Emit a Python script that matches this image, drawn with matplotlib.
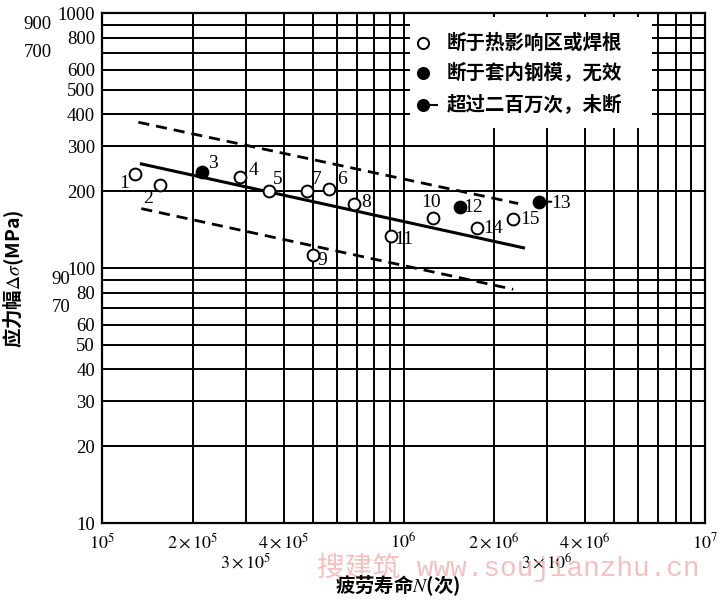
import matplotlib
matplotlib.use('Agg')
import matplotlib.pyplot as plt
from matplotlib.patches import Rectangle

plt.rcParams['font.family'] = ['Liberation Serif', 'Noto Sans CJK SC']
plt.rcParams['mathtext.fontset'] = 'stix'

# test results: specimen no., fatigue life N, stress range (MPa)
spec_id = ['1', '2', '3', '4', '5', '6', '7', '8', '9', '10', '11', '12', '13', '14', '15']
life_N = [1.29e5, 1.56e5, 2.14e5, 2.87e5, 3.59e5, 5.67e5, 4.78e5, 6.87e5,
          4.99e5, 1.255e6, 9.07e5, 1.54e6, 2.81e6, 1.75e6, 2.31e6]
stress = [234, 212, 239, 228, 201, 205, 201, 179, 112, 157, 133, 174, 182, 143, 156]
# 0 = broke at HAZ / weld root, 1 = broke in sleeve (invalid), 2 = run-out
status = [0, 0, 1, 0, 0, 0, 0, 0, 0, 0, 0, 1, 2, 0, 0]

# S-N lines (mean and the two bounds)
mean_N = [1.35e5, 2.50e6]
mean_S = [256, 120]
upper_N = [1.32e5, 2.40e6]
upper_S = [373, 179]
lower_N = [1.35e5, 2.31e6]
lower_S = [171, 82.5]

legend_txt = ['断于热影响区或焊根', '断于套内钢模，无效', '超过二百万次，未断']

yticks = [10, 20, 30, 40, 50, 60, 70, 80, 90, 100, 200, 300, 400, 500,
          600, 700, 800, 900, 1000]
xticks = [k * 10 ** e for e in (5, 6) for k in range(1, 10)] + [10 ** 7]
xlab = {1e5: r'$10^{5}$', 2e5: r'$2\times10^{5}$', 4e5: r'$4\times10^{5}$',
        1e6: r'$10^{6}$', 2e6: r'$2\times10^{6}$', 4e6: r'$4\times10^{6}$',
        1e7: r'$10^{7}$'}
xlab_low = {3e5: r'$3\times10^{5}$', 3e6: r'$3\times10^{6}$'}
ylab_shift = {900: -0.083, 700: -0.083, 90: -0.053, 70: -0.053}

# label offsets (points) for specimen numbers
lab_off = [(-8.4, -6.7), (-8.9, -10), (8.4, 5.5), (9.6, 4.3), (5.8, 8.2),
           (8.9, 6.7), (7.2, 8.2), (8.4, 0.4), (6.8, -3.6), (-1.9, 11.5),
           (9.1, -2.4), (9.6, -0.4), (16.3, -1.2), (12, 0), (12, -0.7)]

fig = plt.figure(figsize=(7.22, 6.0), dpi=100)
ax = fig.add_axes([0.1413, 0.1283, 0.8352, 0.85])
ax.set_xscale('log')
ax.set_yscale('log')
ax.set_xlim(1e5, 1e7)
ax.set_ylim(10, 1000)

ax.set_xticks(xticks)
ax.set_xticklabels([xlab.get(float(v), '') for v in xticks], fontsize=13)
ax.set_yticks(yticks)
ax.set_yticklabels(['' if v in ylab_shift else str(v) for v in yticks], fontsize=13.5)
ax.minorticks_off()
ax.tick_params(axis='both', length=0)
ax.tick_params(axis='x', pad=7)
ax.tick_params(axis='y', pad=5)
ax.grid(True, which='major', color='black', lw=1.4)
ax.set_axisbelow(True)
for s in ax.spines.values():
    s.set_linewidth(1.6)

for v, xs in ylab_shift.items():
    ax.text(xs, v, str(v), transform=ax.get_yaxis_transform(), ha='right',
            va='center', fontsize=13.5)
for v, t in xlab_low.items():
    ax.text(v, -0.0765, t, transform=ax.get_xaxis_transform(), ha='center',
            va='center', fontsize=13, zorder=5)

ax.plot(mean_N, mean_S, color='black', lw=2.2, zorder=3)
ax.plot(upper_N, upper_S, color='black', lw=2.0, ls=(0, (4, 2.5)), zorder=3)
ax.plot(lower_N, lower_S, color='black', lw=2.0, ls=(0, (4, 2.5)), zorder=3)

for i in range(len(spec_id)):
    face = 'white' if status[i] == 0 else 'black'
    if status[i] == 2:
        ax.annotate('', xy=(life_N[i], stress[i]), xytext=(9, 0),
                    textcoords='offset points',
                    arrowprops=dict(arrowstyle='-', lw=1.5, color='black',
                                    shrinkA=0, shrinkB=0), zorder=4)
    ax.plot(life_N[i], stress[i], 'o', ms=8.5, mfc=face, mec='black',
            mew=1.4, zorder=5)
    ax.annotate(spec_id[i], xy=(life_N[i], stress[i]), xytext=lab_off[i],
                textcoords='offset points', ha='center', va='center',
                fontsize=14, zorder=6)

# legend block
ax.add_patch(Rectangle((0.511, 0.7745), 0.401, 0.218, transform=ax.transAxes,
                       facecolor='white', edgecolor='none', zorder=2))
leg_y = [0.941, 0.882, 0.8196]
for k in range(3):
    face = 'white' if k == 0 else 'black'
    if k == 2:
        ax.plot([0.532, 0.555], [leg_y[k], leg_y[k]], color='black', lw=1.5,
                transform=ax.transAxes, zorder=4)
    ax.plot(0.532, leg_y[k], 'o', ms=8, mfc=face, mec='black', mew=1.4,
            transform=ax.transAxes, zorder=5)
    ax.text(0.572, leg_y[k], legend_txt[k], transform=ax.transAxes,
            ha='left', va='center', fontsize=14, fontweight='bold',
            family=['Noto Sans CJK SC', 'DejaVu Sans'], zorder=5)

fig.text(0.019, 0.535, r'应力幅$\Delta\sigma$(MPa)', rotation=90, ha='center',
         va='center', fontsize=14, fontweight='bold',
         family=['Noto Sans CJK SC', 'DejaVu Sans'])
fig.text(0.551, 0.024, r'疲劳寿命$N$(次)', ha='center', va='center',
         fontsize=14, fontweight='bold',
         family=['Noto Sans CJK SC', 'DejaVu Sans'])

# watermark
fig.text(0.439, 0.055, '搜建筑 www.soujianzhu.cn', ha='left', va='center',
         fontsize=20, color='#f5b9b9', alpha=0.9, zorder=0,
         family=['Liberation Mono', 'Noto Sans CJK SC'])

fig.savefig('out.png', dpi=100)
